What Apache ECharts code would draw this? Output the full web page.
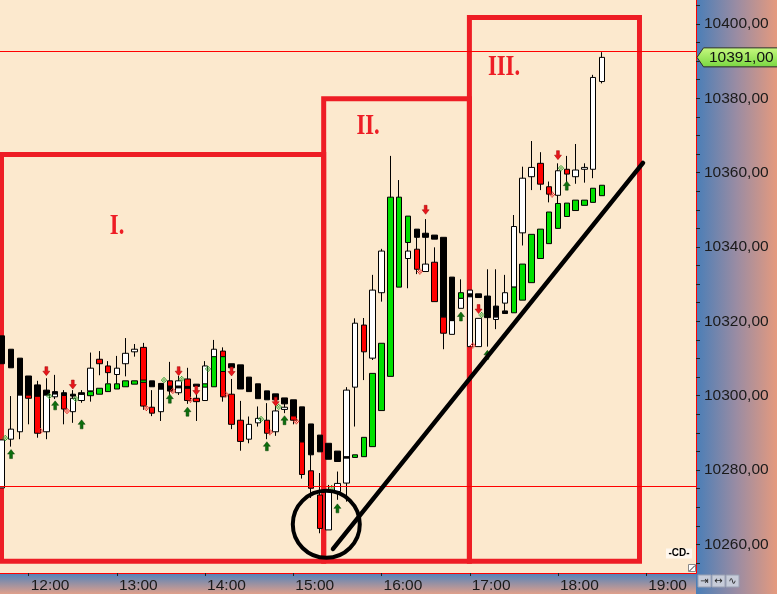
<!DOCTYPE html>
<html><head><meta charset="utf-8">
<script src="https://cdn.jsdelivr.net/npm/echarts@6/dist/echarts.min.js"></script>
<style>html,body{margin:0;padding:0;background:#FCE9CE}#c{width:777px;height:594px}</style>
</head><body><div id="c"></div>
<script>
// ---------- data ----------
const barTimes = ['11:42','11:48','11:54','12:00','12:06','12:12','12:18','12:24','12:30','12:36','12:42','12:48','12:54',
'13:00','13:06','13:12','13:18','13:24','13:30','13:36','13:42','13:48','13:54',
'14:00','14:06','14:12','14:18','14:24','14:30','14:36','14:42','14:48','14:54',
'15:00','15:06','15:12','15:18','15:24','15:30','15:36','15:42','15:48','15:54',
'16:00','16:06','16:12','16:18','16:24','16:30','16:36','16:42','16:48','16:54',
'17:00','17:06','17:12','17:18','17:24','17:30','17:36','17:42','17:48','17:54',
'18:00','18:06','18:12','18:18','18:24','18:30'];
const candleOpen = [10275.2,10288.3,10290.3,10300.2,10299.9,10290.3,10299.7,10300.1,10295.7,10298.7,
10301.3,10309.8,10308.0,10305.7,10308.6,10311.8,10313.0,10296.9,10295.7,10304.0,
10300.8,10304.5,10299.3,10298.7,10308.0,10312.0,10300.4,10293.4,10288.3,10292.7,
10293.4,10290.3,10296.3,10294.6,10287.6,10279.8,10273.3,10263.9,10274.2,10276.5,
10302.3,10319.0,10310.1,10327.7,10325.7,10351.3,10336.9,10339.4,10333.4,10335.9,
10321.2,10316.5,10323.5,10313.2,10313.2,10325.7,10320.5,10324.9,10329.2,10343.8,
10358.9,10362.5,10356.2,10353.9,10360.9,10358.9,10360.9,10360.9,10384.5];
const candleClose = [10288.1,10291.0,10300.2,10299.3,10289.9,10300.2,10300.5,10296.4,10299.3,10300.4,
10307.4,10308.6,10306.2,10307.4,10311.4,10312.5,10297.2,10295.3,10301.8,10301.3,
10304.0,10298.7,10298.4,10308.0,10312.5,10299.7,10292.3,10287.7,10292.3,10293.9,
10289.9,10295.9,10296.9,10293.4,10278.8,10275.1,10264.3,10274.6,10276.4,10301.5,
10319.5,10311.8,10328.4,10338.9,10350.0,10331.1,10338.9,10334.0,10335.4,10325.3,
10316.8,10320.2,10326.2,10328.4,10320.8,10321.7,10321.2,10327.7,10345.5,10358.5,
10361.4,10356.9,10354.2,10360.5,10359.6,10360.7,10361.4,10385.6,10391.0];
const candleLow = [10275.2,10286.3,10288.3,10292.3,10288.7,10288.3,10299.1,10292.3,10292.7,10298.1,
10298.4,10305.5,10303.3,10303.1,10305.2,10310.5,10296.2,10294.5,10293.2,10300.2,
10300.2,10297.8,10293.2,10298.7,10308.0,10298.4,10291.0,10285.2,10287.2,10291.7,
10288.3,10289.2,10295.3,10292.3,10277.7,10272.5,10263.0,10263.9,10272.0,10271.5,
10291.7,10304.2,10309.6,10325.3,10325.7,10329.8,10328.9,10332.7,10333.4,10325.3,
10312.5,10316.5,10323.5,10313.2,10313.2,10313.2,10317.9,10322.8,10329.2,10340.4,
10355.3,10355.3,10352.0,10351.7,10357.2,10357.0,10357.3,10358.5,10384.0];
const candleHigh = [10288.1,10299.9,10300.2,10300.2,10304.0,10304.7,10305.6,10301.5,10301.5,10301.5,
10311.6,10312.0,10309.3,10310.7,10315.5,10313.9,10314.2,10301.5,10301.8,10309.1,
10305.3,10307.5,10302.4,10309.3,10315.0,10313.0,10304.5,10298.6,10294.4,10297.1,
10298.0,10297.5,10297.8,10294.6,10287.6,10284.1,10279.2,10276.0,10279.6,10302.3,
10320.8,10320.9,10332.5,10339.5,10364.5,10358.0,10345.7,10342.6,10347.5,10339.9,
10325.7,10329.8,10331.3,10328.4,10320.8,10334.0,10334.0,10332.5,10348.6,10361.6,
10368.5,10365.5,10357.6,10362.5,10364.5,10367.7,10362.5,10386.3,10392.4];
const haOpen = [10316.1,10312.5,10310.1,10305.3,10302.9,10301.5,10301.1,10300.8,10300.4,10300.8,
10300.0,10300.4,10301.1,10301.8,10302.4,10303.1,10303.6,10304.0,10303.3,10302.6,
10302.6,10302.5,10303.1,10302.3,10302.4,10306.5,10308.6,10308.3,10305.0,10303.2,
10301.3,10300.5,10299.4,10298.9,10297.0,10292.4,10289.4,10287.2,10285.1,10283.6,
10283.4,10283.6,10286.3,10296.0,10305.2,10329.2,10341.2,10344.8,10343.7,10343.2,
10342.6,10331.9,10326.2,10327.4,10327.4,10326.8,10324.1,10322.8,10322.3,10325.7,
10330.4,10336.9,10340.9,10345.0,10348.2,10349.8,10351.2,10352.0,10353.8];
const haClose = [10308.6,10307.5,10300.2,10300.2,10299.9,10300.2,10300.5,10300.1,10299.9,10300.4,
10301.1,10302.0,10303.2,10303.2,10304.0,10304.0,10304.2,10302.4,10301.8,10301.3,
10302.1,10302.0,10302.5,10303.2,10310.5,10310.5,10307.5,10301.8,10301.1,10299.2,
10298.9,10298.9,10297.8,10294.6,10287.6,10284.1,10284.9,10282.9,10282.3,10283.2,
10284.1,10288.8,10306.0,10314.1,10353.4,10353.4,10348.3,10342.6,10342.6,10342.1,
10321.2,10320.2,10327.7,10326.6,10326.4,10321.0,10321.2,10322.1,10329.2,10335.4,
10343.4,10344.8,10349.4,10351.7,10351.8,10352.6,10352.6,10355.8,10356.6];

const sellArrowTimes = ['12:12','12:30','13:42','13:54','14:18','14:48','16:30','17:06','18:00'];
const sellArrowPrices = [10306.6,10303.0,10306.6,10301.4,10306.5,10298.4,10350.0,10323.3,10364.7];
const buyArrowTimes = ['11:48','12:18','12:36','13:36','13:48','14:42','14:54','15:30','16:54','17:12','18:06'];
const buyArrowPrices = [10284.3,10297.4,10292.3,10299.2,10295.7,10286.4,10293.4,10269.7,10321.3,10311.0,10356.5];
const greenDotTimes = ['11:42','12:12','12:30','13:30','13:42','14:00','14:36','14:48','15:24','17:06','18:00'];
const greenDotPrices = [10288.6,10299.9,10299.1,10304.2,10304.5,10307.2,10293.7,10297.0,10275.2,10321.7,10361.2];
const redDotTimes = ['12:06','12:24','13:18','13:36','13:48','14:12','14:42','15:00','16:24','17:00','17:54'];
const redDotPrices = [10290.5,10295.9,10296.7,10301.3,10298.9,10300.3,10290.2,10293.1,10333.4,10313.5,10354.1];

const priceLevels = [10392.7, 10275.7];
const lastPrice = 10391.0;
const yTickLabels = [10260,10280,10300,10320,10340,10360,10380,10400];
const xTickLabels = ['12:00','13:00','14:00','15:00','16:00','17:00','18:00','19:00'];

const zoneNames = ['I.','II.','III.'];
const zoneStart = ['11:41.5','15:20.65','16:59.76'];
const zoneEnd = ['15:20.65','16:59.76','18:55.45'];
const zoneTop = [10364.9, 10379.9, 10401.7];
const zoneBottom = 10255.5;
const zoneLabelTime = ['13:00.1','15:50.8','17:23.3'];
const zoneLabelPrice = [10345.5, 10372.5, 10388.3];
const trendFrom = ['15:26.98', 10258.8];
const trendTo = ['18:57.84', 10362.6];
const circleAt = ['15:22.42', 10265.4];

// ---------- helpers ----------
const T = s => { const p = s.split(':'); return (+p[0]) * 60 + parseFloat(p[1]); };
const fmtTime = v => { const h = Math.floor(v / 60), m = Math.round(v - h * 60); return h + ':' + (m < 10 ? '0' : '') + m; };
const fmtPrice = v => v.toFixed(2).replace('.', ',');
const FONT = 'Liberation Sans';
const yMinorTicks = [];
for (let v = 10255; v <= 10405; v += 5) yMinorTicks.push(v);

const candleData = barTimes.map((t, i) => [T(t), candleOpen[i], candleClose[i], candleLow[i], candleHigh[i]]);
const haData = barTimes.map((t, i) => [T(t), haOpen[i], haClose[i], Math.min(haOpen[i], haClose[i]), Math.max(haOpen[i], haClose[i])]);
const pts = (ts, ps) => ts.map((t, i) => [T(t), ps[i]]);

const downPath = 'path://M3,0H7V5H10L5,10L0,5H3Z';
const upPath = 'path://M5,0L10,5H7V10H3V5H0Z';
const checkPath = 'path://M0,2h1v1h-1z M1,1h1v1h-1z M2,0h1v1h-1z M1,3h1v1h-1z M2,2h1v1h-1z M3,1h1v1h-1z M3,3h1v1h-1z M2,4h1v1h-1z M4,2h1v1h-1z';

const chart = echarts.init(document.getElementById('c'), null, { renderer: 'canvas' });
const option = {
  animation: false,
  backgroundColor: '#FCE9CE',
  grid: { left: 0, right: 81, top: 0, bottom: 21, containLabel: false, outerBoundsMode: 'none' },
  xAxis: {
    type: 'value', min: T('11:40.48'), max: T('19:33.89'),
    splitLine: { show: false },
    axisLine: { show: true, onZero: false, lineStyle: { color: '#FF0000', width: 1 } },
    axisTick: { show: true, customValues: xTickLabels.map(T), length: 3, lineStyle: { color: '#222' } },
    axisLabel: { customValues: xTickLabels.map(T), formatter: fmtTime, align: 'left', margin: 5, padding: [0, 0, 0, 2],
      color: '#1A1A1A', fontFamily: FONT, fontSize: 15.5 }
  },
  yAxis: {
    type: 'value', position: 'right', min: 10252.31, max: 10406.43,
    splitLine: { show: false },
    axisLine: { show: true, onZero: false, lineStyle: { color: '#FF0000', width: 1 } },
    axisTick: { show: true, customValues: yMinorTicks, length: 4, lineStyle: { color: '#222' } },
    axisLabel: { customValues: yTickLabels, formatter: fmtPrice, margin: 8, color: '#1A1A1A', fontFamily: FONT, fontSize: 15.5 }
  },
  series: [
    { type: 'line', name: 'levels', data: [], z: 1, silent: true,
      markLine: { silent: true, symbol: ['none', 'none'], label: { show: false },
        lineStyle: { color: '#FF0000', width: 1, type: 'solid' },
        data: priceLevels.map(v => ({ yAxis: v })) } },
    { type: 'candlestick', name: 'Kurs', data: candleData, barWidth: 6, z: 2, silent: true,
      itemStyle: { color: '#FFFFFF', color0: '#FF0000', borderColor: '#000000', borderColor0: '#000000', borderWidth: 1 } },
    { type: 'candlestick', name: 'HA', data: haData, barWidth: 6, z: 3, silent: true,
      itemStyle: { color: '#00E000', color0: '#000000', borderColor: '#000000', borderColor0: '#000000', borderWidth: 1 } },
    { type: 'scatter', name: 'sell', data: pts(sellArrowTimes, sellArrowPrices), symbol: downPath, symbolSize: [7, 9],
      symbolKeepAspect: false, z: 4, silent: true, itemStyle: { color: '#E8161B', borderColor: '#A00000', borderWidth: 0.5, opacity: 1 } },
    { type: 'scatter', name: 'buy', data: pts(buyArrowTimes, buyArrowPrices), symbol: upPath, symbolSize: [7, 9],
      symbolKeepAspect: false, z: 4, silent: true, itemStyle: { color: '#0D6E0D', borderColor: '#064006', borderWidth: 0.5, opacity: 1 } },
    { type: 'scatter', name: 'gsig', data: pts(greenDotTimes, greenDotPrices), symbol: checkPath, symbolSize: 6,
      symbolOffset: [3, 0], z: 4, silent: true, itemStyle: { color: '#2E9E2E', opacity: 1 } },
    { type: 'scatter', name: 'rsig', data: pts(redDotTimes, redDotPrices), symbol: checkPath, symbolSize: 6,
      symbolOffset: [3, 0], z: 4, silent: true, itemStyle: { color: '#E52020', opacity: 1 } },
    { type: 'scatter', name: 'circle', data: [[T(circleAt[0]), circleAt[1]]], symbol: 'circle', symbolSize: 67, z: 5, silent: true,
      itemStyle: { color: 'rgba(0,0,0,0)', borderColor: '#000000', borderWidth: 4, opacity: 1 } },
    { type: 'line', name: 'zones', data: [], z: 6, silent: true,
      markArea: { silent: true, label: { show: false },
        itemStyle: { color: 'rgba(0,0,0,0)', borderColor: '#EE1D25', borderWidth: 5 },
        emphasis: { disabled: true },
        data: zoneStart.map((s, i) => [{ coord: [T(s), zoneTop[i]] }, { coord: [T(zoneEnd[i]), zoneBottom] }]) } },
    { type: 'line', name: 'trend', data: [], z: 7, silent: true,
      markLine: { silent: true, symbol: ['none', 'none'], label: { show: false },
        lineStyle: { color: '#000000', width: 4.5, type: 'solid', cap: 'round' },
        emphasis: { disabled: true },
        data: [[{ coord: [T(trendFrom[0]), trendFrom[1]] }, { coord: [T(trendTo[0]), trendTo[1]] }]] } }
  ]
};
chart.setOption(option);

// ---------- decorations (axis strips, price tag, zone labels, small icons) ----------
const px = (t, p) => chart.convertToPixel({ gridIndex: 0 }, [T(t), p]);
const tagY = chart.convertToPixel({ yAxisIndex: 0 }, lastPrice);
const g = [
  { type: 'rect', z: -10, silent: true, shape: { x: 696, y: 0, width: 81, height: 594 },
    style: { fill: { type: 'linear', x: 0, y: 0, x2: 1, y2: 0, colorStops: [{ offset: 0, color: '#4A7EB7' }, { offset: 0.5, color: '#9A8CA3' }, { offset: 1, color: '#E59A7E' }] } } },
  { type: 'rect', z: -10, silent: true, shape: { x: 0, y: 573.5, width: 696, height: 21 },
    style: { fill: { type: 'linear', x: 0, y: 0, x2: 0, y2: 1, colorStops: [{ offset: 0, color: '#5283BA' }, { offset: 1, color: '#E3A08A' }] } } },
  { type: 'polygon', z: 10, silent: true,
    shape: { points: [[697, tagY], [703.5, tagY - 9.5], [778, tagY - 9.5], [778, tagY + 9.5], [703.5, tagY + 9.5]] },
    style: { fill: { type: 'linear', x: 0, y: 0, x2: 0, y2: 1, colorStops: [{ offset: 0, color: '#C8F980' }, { offset: 1, color: '#78D640' }] }, stroke: '#2A2A2A', lineWidth: 1 } },
  { type: 'text', z: 11, silent: true, x: 709, y: tagY,
    style: { text: fmtPrice(lastPrice), font: '15.5px "Liberation Sans"', fill: '#111', verticalAlign: 'middle', align: 'left' } },
  // small chart icons
  { type: 'rect', z: 10, silent: true, shape: { x: 666, y: 548.5, width: 26, height: 10 }, style: { fill: '#FFF7EE' } },
  { type: 'text', z: 11, silent: true, x: 679, y: 553.5, style: { text: '-CD-', font: 'bold 10px "Liberation Sans"', fill: '#000', align: 'center', verticalAlign: 'middle' } },
  { type: 'rect', z: 10, silent: true, shape: { x: 688.5, y: 564.5, width: 7, height: 7 }, style: { fill: '#FFFFFF', stroke: '#888', lineWidth: 1 } },
  { type: 'line', z: 11, silent: true, shape: { x1: 689.5, y1: 571, x2: 695, y2: 565.5 }, style: { stroke: '#333', lineWidth: 1 } }
];
['\u21E5', '\u2194', '\u223F'].forEach((s, i) => {
  g.push({ type: 'rect', z: 10, silent: true, shape: { x: 698 + i * 14, y: 575, width: 13, height: 12 }, style: { fill: '#C7CCD9', stroke: '#9AA1B3', lineWidth: 1 } });
  g.push({ type: 'text', z: 11, silent: true, x: 704.5 + i * 14, y: 581, style: { text: s, font: '10px "DejaVu Sans"', fill: '#222', align: 'center', verticalAlign: 'middle' } });
});
zoneNames.forEach((n, i) => {
  const p = px(zoneLabelTime[i], zoneLabelPrice[i]);
  g.push({ type: 'text', z: 12, silent: true, x: p[0], y: p[1], scaleX: 0.78,
    style: { text: n, font: 'bold 29px "Liberation Serif"', fill: '#EE1D25', align: 'center', verticalAlign: 'middle' } });
});
chart.setOption({ graphic: g });
</script>
</body></html>
